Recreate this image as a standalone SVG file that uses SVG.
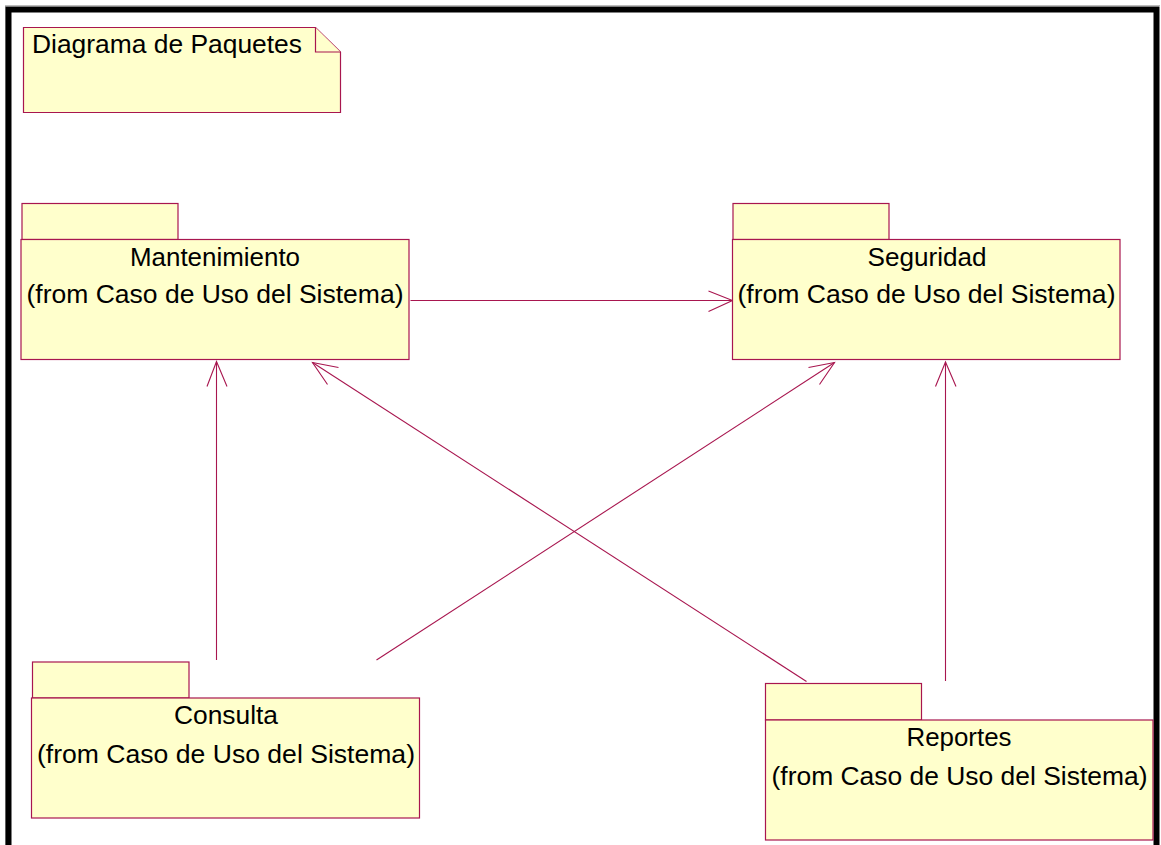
<svg xmlns="http://www.w3.org/2000/svg" width="1161" height="845" viewBox="0 0 1161 845">
  <defs>
    <style>
      .pkg { fill: #ffffcc; stroke: #a8164f; stroke-width: 1.2; }
      .lbl { font-family: "Liberation Sans", Arial, sans-serif; font-size: 25px; fill: #000; }
      .dep { fill: none; stroke: #a8164f; stroke-width: 1.1; }
      .frame { fill: none; stroke: #000; }
    </style>
  </defs>

  <rect x="0" y="0" width="1161" height="845" fill="#fff"/>

  <!-- diagram frame -->
  <g id="frame">
    <line x1="5.5" y1="5" x2="5.5" y2="845" stroke="#bbb" stroke-width="1"/>
    <line x1="5" y1="5.5" x2="1160" y2="5.5" stroke="#bbb" stroke-width="1"/>
    <path class="frame" d="M8.5 845 V9.5 H1156.5 V845" stroke-width="6"/>
  </g>

  <!-- title note -->
  <g id="note">
    <path class="pkg" d="M23.5 27.5 H315.5 L340.5 52 V112.5 H23.5 Z"/>
    <path class="pkg" d="M315.5 27.5 V52 H340.5" fill="none"/>
    <text class="lbl" x="32" y="53" textLength="270" lengthAdjust="spacingAndGlyphs">Diagrama de Paquetes</text>
  </g>

  <!-- connectors (dependencies) -->
  <g id="connectors">
    <!-- Mantenimiento -> Seguridad -->
    <line class="dep" x1="410.5" y1="300.5" x2="732.5" y2="300.5"/>
    <polyline class="dep" points="708.5,291 732.5,300.5 708.5,311.5"/>
    <!-- Consulta -> Mantenimiento -->
    <line class="dep" x1="216.5" y1="660" x2="216.5" y2="361.5"/>
    <polyline class="dep" points="207,386.5 216.5,361.5 227,386.5"/>
    <!-- Reportes -> Mantenimiento -->
    <line class="dep" x1="806.5" y1="681.5" x2="312.5" y2="362.5"/>
    <polyline class="dep" points="338.5,367.5 312.5,362.5 327.5,384.5"/>
    <!-- Consulta -> Seguridad -->
    <line class="dep" x1="376.5" y1="660" x2="834.5" y2="362.5"/>
    <polyline class="dep" points="808.5,367.5 834.5,362.5 819.5,384.5"/>
    <!-- Reportes -> Seguridad -->
    <line class="dep" x1="945.5" y1="681" x2="945.5" y2="362"/>
    <polyline class="dep" points="935.5,386.5 945.5,362 956,386.5"/>
  </g>

  <!-- packages -->
  <g id="mantenimiento">
    <rect class="pkg" x="22" y="203.5" width="156" height="36"/>
    <rect class="pkg" x="21" y="239.5" width="388" height="120"/>
    <text class="lbl" x="215" y="266" text-anchor="middle" textLength="170" lengthAdjust="spacingAndGlyphs">Mantenimiento</text>
    <text class="lbl" x="215" y="303" text-anchor="middle" textLength="377" lengthAdjust="spacingAndGlyphs">(from Caso de Uso del Sistema)</text>
  </g>

  <g id="seguridad">
    <rect class="pkg" x="733" y="203.5" width="156" height="36"/>
    <rect class="pkg" x="732.5" y="239.5" width="387.5" height="120"/>
    <text class="lbl" x="927" y="266" text-anchor="middle" textLength="119" lengthAdjust="spacingAndGlyphs">Seguridad</text>
    <text class="lbl" x="926.5" y="303" text-anchor="middle" textLength="378" lengthAdjust="spacingAndGlyphs">(from Caso de Uso del Sistema)</text>
  </g>

  <g id="consulta">
    <rect class="pkg" x="32.5" y="662" width="156.5" height="36"/>
    <rect class="pkg" x="31.5" y="698" width="388" height="120"/>
    <text class="lbl" x="226" y="724" text-anchor="middle" textLength="104" lengthAdjust="spacingAndGlyphs">Consulta</text>
    <text class="lbl" x="226" y="763" text-anchor="middle" textLength="378" lengthAdjust="spacingAndGlyphs">(from Caso de Uso del Sistema)</text>
  </g>

  <g id="reportes">
    <rect class="pkg" x="765.5" y="683.5" width="156" height="36.5"/>
    <rect class="pkg" x="765.5" y="720" width="387.5" height="120"/>
    <text class="lbl" x="959" y="746" text-anchor="middle" textLength="105" lengthAdjust="spacingAndGlyphs">Reportes</text>
    <text class="lbl" x="959.5" y="785" text-anchor="middle" textLength="376" lengthAdjust="spacingAndGlyphs">(from Caso de Uso del Sistema)</text>
  </g>
</svg>
